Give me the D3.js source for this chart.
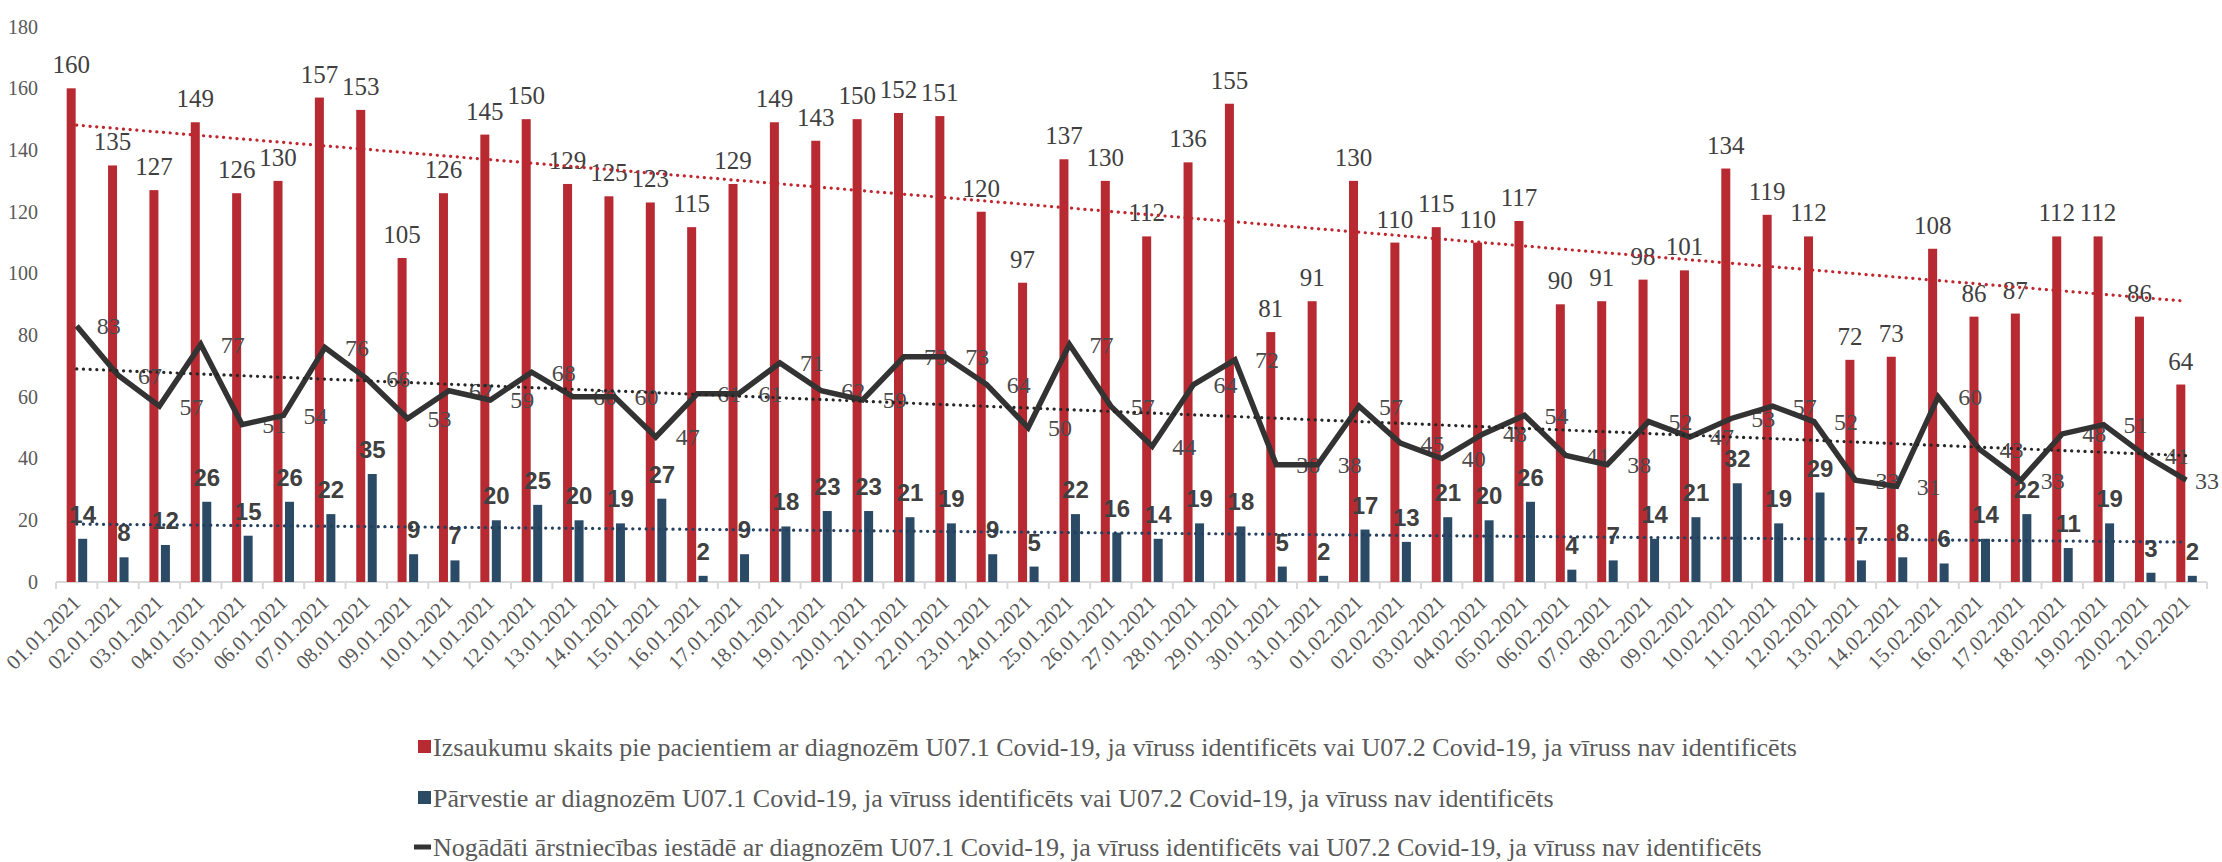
<!DOCTYPE html>
<html>
<head>
<meta charset="utf-8">
<script src="https://cdn.jsdelivr.net/npm/d3@7"></script>
<style>
    body { margin: 0; background: #fff; }
    svg { display: block; }
</style>
</head>
<body>
<script>
// dates on the x axis
var dates = ["01.01.2021","02.01.2021","03.01.2021","04.01.2021","05.01.2021","06.01.2021","07.01.2021","08.01.2021","09.01.2021","10.01.2021",
    "11.01.2021","12.01.2021","13.01.2021","14.01.2021","15.01.2021","16.01.2021","17.01.2021","18.01.2021","19.01.2021","20.01.2021",
    "21.01.2021","22.01.2021","23.01.2021","24.01.2021","25.01.2021","26.01.2021","27.01.2021","28.01.2021","29.01.2021","30.01.2021",
    "31.01.2021","01.02.2021","02.02.2021","03.02.2021","04.02.2021","05.02.2021","06.02.2021","07.02.2021","08.02.2021","09.02.2021",
    "10.02.2021","11.02.2021","12.02.2021","13.02.2021","14.02.2021","15.02.2021","16.02.2021","17.02.2021","18.02.2021","19.02.2021",
    "20.02.2021","21.02.2021"];

// Izsaukumu skaits (red bars)
var calls = [160,135,127,149,126,130,157,153,105,126,145,150,129,125,123,115,129,149,143,150,
    152,151,120,97,137,130,112,136,155,81,91,130,110,115,110,117,90,91,98,101,
    134,119,112,72,73,108,86,87,112,112,86,64];

// Pārvestie (blue bars)
var transferred = [14,8,12,26,15,26,22,35,9,7,20,25,20,19,27,2,9,18,23,23,
    21,19,9,5,22,16,14,19,18,5,2,17,13,21,20,26,4,7,14,21,
    32,19,29,7,8,6,14,22,11,19,3,2];

// Nogādāti ārstniecības iestādē (black line)
var delivered = [83,67,57,77,51,54,76,66,53,62,59,68,60,60,47,61,61,71,62,59,
    73,73,64,50,77,57,44,64,72,38,38,57,45,40,48,54,41,38,52,47,
    53,57,52,33,31,60,43,33,48,51,41,33];

var yTicks = [0,20,40,60,80,100,120,140,160,180];

var legendLabels = [
    "Izsaukumu skaits pie pacientiem ar diagnozēm U07.1 Covid-19, ja vīruss identificēts vai U07.2 Covid-19, ja vīruss nav identificēts",
    "Pārvestie ar diagnozēm U07.1 Covid-19, ja vīruss identificēts vai U07.2 Covid-19, ja vīruss nav identificēts",
    "Nogādāti ārstniecības iestādē ar diagnozēm U07.1 Covid-19, ja vīruss identificēts vai U07.2 Covid-19, ja vīruss nav identificēts"
];

var W = 2222, H = 862;
var margin = {top: 26.6, bottom: 280, left: 56, right: 15};

var red = "#b82a31", blue = "#2b4a66", dark = "#333333";
var serif = "Liberation Serif, Times New Roman, serif";
var sans = "Liberation Sans, Arial, sans-serif";

var svg = d3.select("body").append("svg")
    .attr("width", W)
    .attr("height", H);

svg.append("rect").attr("width", W).attr("height", H).attr("fill", "#fff");

var x = d3.scaleBand()
    .domain(dates)
    .range([margin.left, W - margin.right])
    .padding(0);
var y = d3.scaleLinear()
    .domain([0, 180])
    .range([H - margin.bottom, margin.top]);

var bw = x.bandwidth();
var cx = function (d) { return x(d) + bw / 2; };

// y axis (labels only)
var yAxis = d3.axisLeft(y).tickValues(yTicks).tickSize(0).tickPadding(0);
var gy = svg.append("g")
    .attr("transform", "translate(38,0)")
    .call(yAxis)
    .attr("font-family", serif);
gy.select(".domain").remove();
gy.selectAll("text")
    .style("font-size", "20px")
    .attr("fill", "#595959");

// x axis
var baseY = y(0);
var xAxis = d3.axisBottom(x).tickSize(0).tickPadding(0);
var gx = svg.append("g")
    .attr("transform", "translate(0," + baseY + ")")
    .call(xAxis)
    .attr("font-family", serif);
gx.select(".domain").remove();
gx.selectAll("text")
    .style("font-size", "21px")
    .attr("fill", "#595959")
    .attr("text-anchor", "end")
    .attr("dy", null)
    .attr("y", 0)
    .attr("transform", "translate(5,22) rotate(-45)");

gx.append("line")
    .attr("x1", margin.left).attr("x2", W - margin.right)
    .attr("y1", 0).attr("y2", 0)
    .attr("stroke", "#d9d9d9").attr("stroke-width", 2);
gx.selectAll(".bound")
    .data(dates.concat(["end"]))
    .enter().append("line")
    .attr("class", "bound")
    .attr("x1", function (d) { return d === "end" ? x.range()[1] : x(d); })
    .attr("x2", function (d) { return d === "end" ? x.range()[1] : x(d); })
    .attr("y1", 0).attr("y2", 7)
    .attr("stroke", "#d9d9d9").attr("stroke-width", 2);

// bars
var redOff = -10, blueOff = 1.5, barW = 9;
svg.append("g").selectAll("rect")
    .data(calls)
    .enter().append("rect")
    .attr("x", function (d, i) { return cx(dates[i]) + redOff; })
    .attr("y", function (d) { return y(d); })
    .attr("width", barW)
    .attr("height", function (d) { return baseY - y(d); })
    .attr("fill", red);

svg.append("g").selectAll("rect")
    .data(transferred)
    .enter().append("rect")
    .attr("x", function (d, i) { return cx(dates[i]) + blueOff; })
    .attr("y", function (d) { return y(d); })
    .attr("width", barW)
    .attr("height", function (d) { return baseY - y(d); })
    .attr("fill", blue);

// data labels for bars
svg.append("g").attr("font-family", serif).selectAll("text")
    .data(calls)
    .enter().append("text")
    .attr("x", function (d, i) { return cx(dates[i]) + redOff + barW / 2; })
    .attr("y", function (d) { return y(d) - 15; })
    .attr("text-anchor", "middle")
    .style("font-size", "25px")
    .attr("fill", "#404040")
    .text(function (d) { return d; });

svg.append("g").attr("font-family", sans).selectAll("text")
    .data(transferred)
    .enter().append("text")
    .attr("x", function (d, i) { return cx(dates[i]) + blueOff + barW / 2; })
    .attr("y", function (d) { return y(d) - 16; })
    .attr("text-anchor", "middle")
    .style("font-weight", "bold")
    .style("font-size", "24px")
    .attr("fill", "#404040")
    .text(function (d) { return d; });

// labels for the line (to the right of each point, kept inside the svg)
var lineLabels = svg.append("g").attr("font-family", serif).selectAll("text")
    .data(delivered)
    .enter().append("text")
    .attr("y", function (d) { return y(d); })
    .attr("dy", "0.35em")
    .style("font-size", "24px")
    .attr("fill", "#4a4a4a")
    .text(function (d) { return d; });
lineLabels.attr("x", function (d, i) {
    var w = this.getComputedTextLength();
    return Math.min(cx(dates[i]) + 20, W - 3 - w);
});

// black line
var line = d3.line()
    .x(function (d, i) { return cx(dates[i]); })
    .y(function (d) { return y(d); });

svg.append("path")
    .datum(delivered)
    .attr("d", line)
    .attr("fill", "none")
    .attr("stroke", dark)
    .attr("stroke-width", 5.5)
    .attr("stroke-linejoin", "miter");

// linear trendlines (least squares over index)
function trend(vals) {
    var n = vals.length, sx = 0, sy = 0, sxy = 0, sxx = 0;
    vals.forEach(function (v, i) { sx += i; sy += v; sxy += i * v; sxx += i * i; });
    var b = (n * sxy - sx * sy) / (n * sxx - sx * sx);
    var a = (sy - b * sx) / n;
    return [[0, a], [n - 1, a + b * (n - 1)]];
}
var trendLine = d3.line()
    .x(function (d) { return cx(dates[d[0]]); })
    .y(function (d) { return y(d[1]); });

var trends = [[calls, "#c0262d"], [delivered, "#262626"], [transferred, "#24405e"]];

svg.append("g").selectAll("path")
    .data(trends)
    .enter().append("path")
    .attr("d", function (d) { return trendLine(trend(d[0])); })
    .attr("fill", "none")
    .attr("stroke", function (d) { return d[1]; })
    .attr("stroke-width", 3.2)
    .attr("stroke-linecap", "round")
    .attr("stroke-dasharray", "0.1,6.6");

// legend
var legendY = [747, 798, 847];
var lg = svg.append("g");
lg.append("rect").attr("x", 418).attr("y", legendY[0] - 7).attr("width", 13).attr("height", 13).attr("fill", red);
lg.append("rect").attr("x", 418).attr("y", legendY[1] - 7).attr("width", 13).attr("height", 13).attr("fill", blue);
lg.append("line").attr("x1", 414).attr("x2", 431).attr("y1", legendY[2]).attr("y2", legendY[2])
    .attr("stroke", dark).attr("stroke-width", 5);
lg.attr("font-family", serif).selectAll("text")
    .data(legendLabels)
    .enter().append("text")
    .attr("x", 433)
    .attr("y", function (d, i) { return legendY[i]; })
    .attr("dy", "0.35em")
    .style("font-size", "26px")
    .attr("fill", "#595959")
    .text(function (d) { return d; });
</script>
</body>
</html>
